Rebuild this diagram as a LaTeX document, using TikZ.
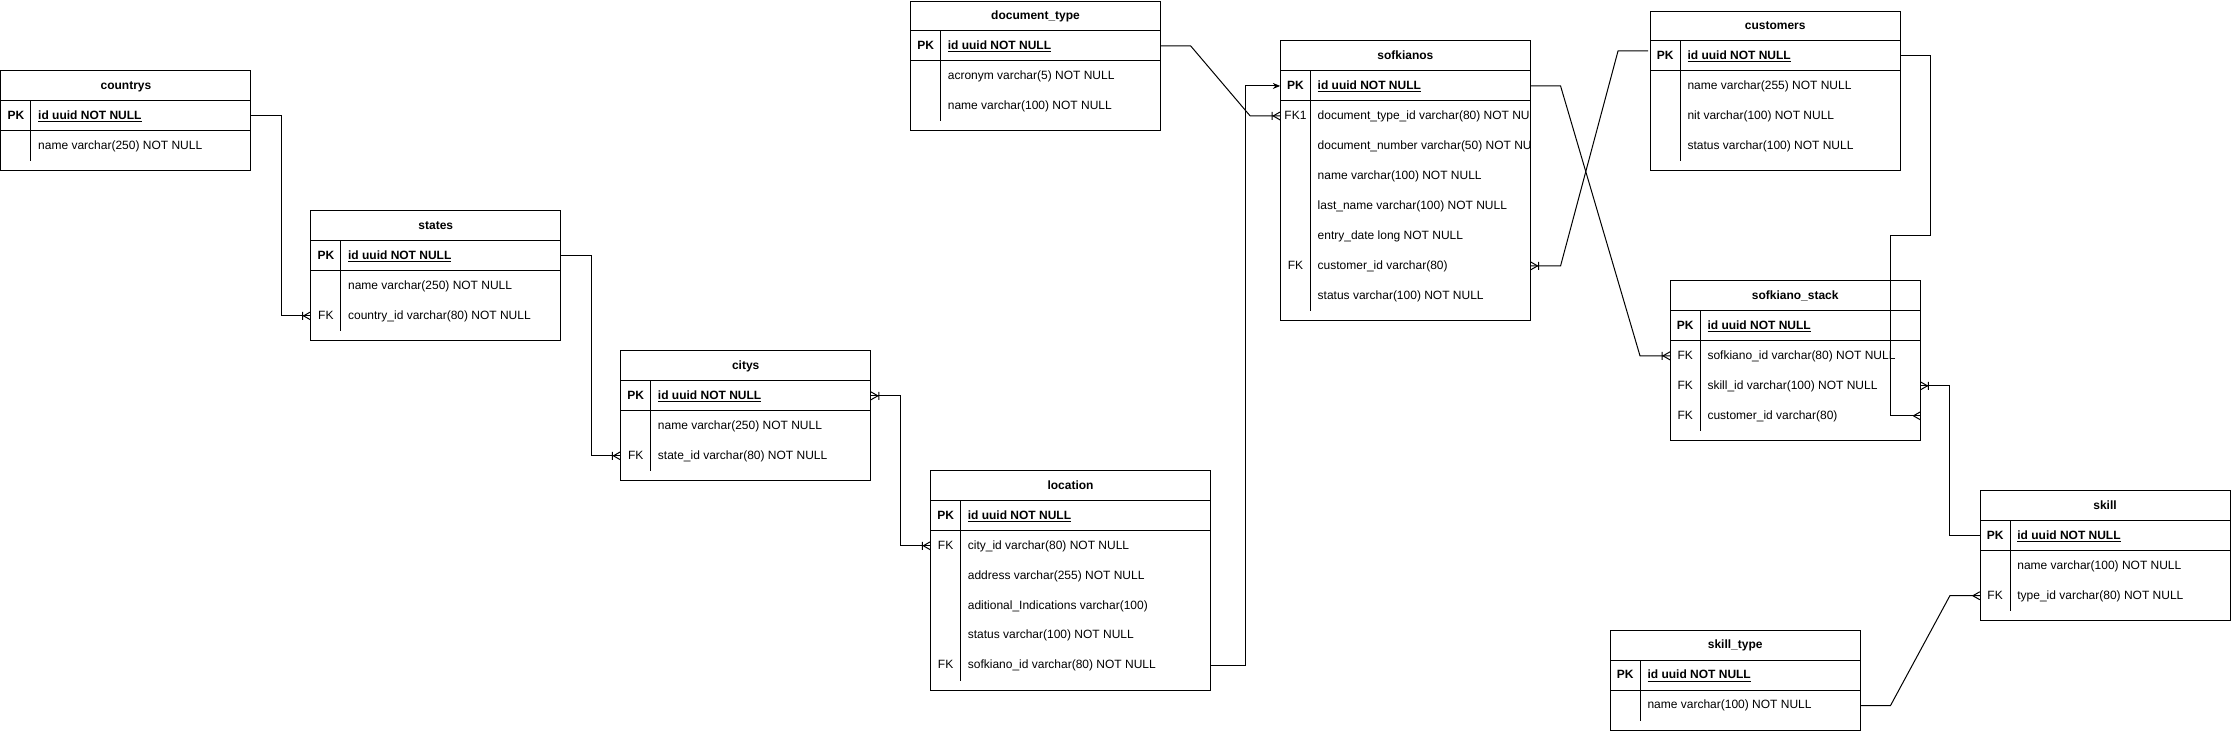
\documentclass[tikz,border=0pt]{standalone}
\usepackage{fontspec}
\setmainfont{Liberation Sans}
\usetikzlibrary{calc,arrows.meta,decorations.markings}
\def\px{0.75pt}
\tikzstyle{erline}=[line width=0.75pt]
\tikzstyle{rowbox}=[inner sep=0pt,minimum height=22.5pt,text height=6.8pt,text depth=1.9pt]
\tikzstyle{keytext}=[inner sep=0pt,text height=6.8pt,text depth=1.9pt]
\tikzstyle{fieldtext}=[inner sep=0pt,anchor=west,text height=6.8pt,text depth=1.9pt]
\tikzstyle{manyend}=[postaction={decorate,decoration={markings,mark=at position 1 with {\draw[erline] (-5.25pt,0) -- (0,3pt) (-5.25pt,0) -- (0,-3pt);}}}]
\tikzstyle{onemanyend}=[postaction={decorate,decoration={markings,mark=at position 1 with {\draw[erline] (-5.25pt,0) -- (0,3pt) (-5.25pt,0) -- (0,-3pt) (-6pt,3pt) -- (-6pt,-3pt);}}}]
\tikzstyle{onemanystart}=[postaction={decorate,decoration={markings,mark=at position 0 with {\draw[erline] (5.25pt,0) -- (0,3pt) (5.25pt,0) -- (0,-3pt) (6pt,3pt) -- (6pt,-3pt);}}}]
\newcommand{\ertable}[6]{% Syntax: {name}{x}{y}{width}{title}{key/field,...}
\pgfmathsetmacro{\tabx}{#2}
\pgfmathsetmacro{\taby}{#3}
\pgfmathsetmacro{\tabw}{#4}
\gdef\nrows{0}
\foreach \key/\fld [count=\i] in {#6} {\xdef\nrows{\i}}
\pgfmathsetmacro{\tabh}{70+30*\nrows} % header + pk row + rows + padding
\draw[erline] (\tabx,\taby) rectangle (\tabx+\tabw,\taby+\tabh);
\draw[erline] (\tabx,\taby+30) -- ++(\tabw,0) (\tabx,\taby+60) -- ++(\tabw,0);
\draw[erline] (\tabx+30,\taby+30) -- (\tabx+30,\taby+\tabh-10);
\node[rowbox,minimum width=\tabw*\px] (#1) at (\tabx+\tabw/2,\taby+15) {\bfseries #5};
\node[rowbox,minimum width=\tabw*\px] (#1-0) at (\tabx+\tabw/2,\taby+45) {};
\node[keytext] (#1-0k) at (\tabx+15,\taby+45) {\bfseries PK};
\begin{scope}
	\clip (\tabx,\taby) rectangle (\tabx+\tabw,\taby+\tabh);
	\node[fieldtext] (#1-0f) at (\tabx+37,\taby+45) {\bfseries\underline{id uuid NOT NULL}};
	\foreach \key/\fld [count=\i] in {#6} {
		\node[rowbox,minimum width=\tabw*\px] (#1-\i) at (\tabx+\tabw/2,\taby+45+30*\i) {};
		\node[keytext] (#1-\i k) at (\tabx+15,\taby+45+30*\i) {\key};
		\node[fieldtext] (#1-\i f) at (\tabx+37,\taby+45+30*\i) {\fld};
	}
\end{scope}
}

\begin{document}
\begin{tikzpicture}[x=0.75pt,y=-0.75pt,font=\fontsize{9pt}{10.8pt}\selectfont]
\useasboundingbox (-1,-1) rectangle (2231,732);
\ertable{countrys}{0}{70}{250}{countrys}{{}/name varchar(250) NOT NULL}
\ertable{states}{310}{210}{250}{states}{{}/name varchar(250) NOT NULL, FK/country\_id varchar(80) NOT NULL}
\ertable{citys}{620}{350}{250}{citys}{{}/name varchar(250) NOT NULL, FK/state\_id varchar(80) NOT NULL}
\ertable{location}{930}{470}{280}{location}{FK/city\_id varchar(80) NOT NULL, {}/address varchar(255) NOT NULL, {}/aditional\_Indications varchar(100), {}/status varchar(100) NOT NULL, FK/sofkiano\_id varchar(80) NOT NULL}
\ertable{doctype}{910}{0}{250}{document\_type}{{}/acronym varchar(5) NOT NULL, {}/name varchar(100) NOT NULL}
\ertable{sofkianos}{1280}{40}{250}{sofkianos}{FK1/document\_type\_id varchar(80) NOT NULL, {}/document\_number varchar(50) NOT NULL, {}/name varchar(100) NOT NULL, {}/last\_name varchar(100) NOT NULL, {}/entry\_date long NOT NULL, FK/customer\_id varchar(80), {}/status varchar(100) NOT NULL}
\ertable{customers}{1650}{10}{250}{customers}{{}/name varchar(255) NOT NULL, {}/nit varchar(100) NOT NULL, {}/status varchar(100) NOT NULL}
\ertable{stack}{1670}{280}{250}{sofkiano\_stack}{FK/sofkiano\_id varchar(80) NOT NULL, FK/skill\_id varchar(100) NOT NULL, FK/customer\_id varchar(80)}
\ertable{skill}{1980}{490}{250}{skill}{{}/name varchar(100) NOT NULL, FK/type\_id varchar(80) NOT NULL}
\ertable{skilltype}{1610}{630}{250}{skill\_type}{{}/name varchar(100) NOT NULL}

% relations
\draw[erline,onemanyend] (countrys-0.east) -- ++(30,0) |- (states-2.west);
\draw[erline,onemanyend] (states-0.east) -- ++(30,0) |- (citys-2.west);
\draw[erline,onemanystart,onemanyend] (citys-0.east) -- ++(30,0) |- (location-1.west);
\draw[erline,-{Stealth[length=5.5pt,width=4.5pt]}] (location-5.east) -- ++(35,0) |- (sofkianos-0.west);
\draw[erline,onemanyend] (doctype-0.east) -- ++(30,0) -- ($(sofkianos-1.west)+(-30,0)$) -- (sofkianos-1.west);
\draw[erline,onemanyend] (sofkianos-0.east) -- ++(30,0) -- ($(stack-1.west)+(-30,0)$) -- (stack-1.west);
\draw[erline,onemanyend] ($(customers-0.west)+(-2,-5)$) -- ++(-30,0) -- ($(sofkianos-6.east)+(30,0)$) -- (sofkianos-6.east);
\draw[erline,manyend] (customers-0.east) -- ++(30,0) -- ++(0,180) -- ++(-40,0) |- (stack-3.east);
\draw[erline,onemanyend] (skill-0.west) -- ++(-30,0) |- (stack-2.east);
\draw[erline,manyend] (skilltype-1.east) -- ++(30,0) -- ($(skill-2.west)+(-30,0)$) -- (skill-2.west);
\end{tikzpicture}
\end{document}
